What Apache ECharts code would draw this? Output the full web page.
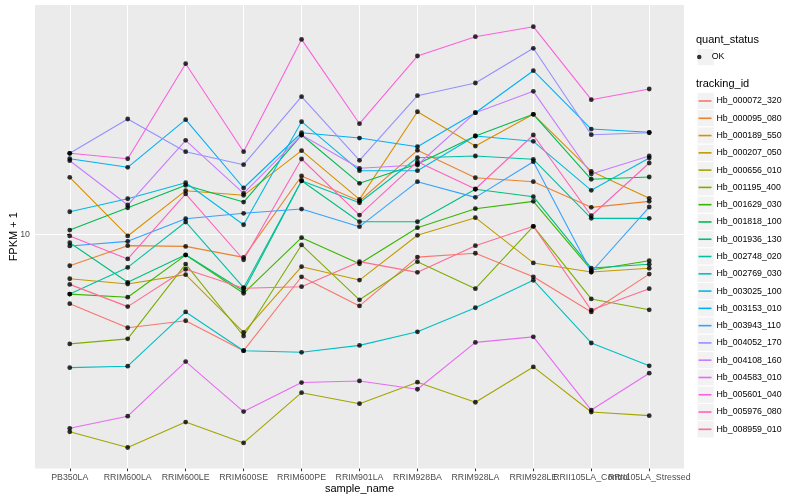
<!DOCTYPE html>
<html>
<head>
<meta charset="utf-8">
<script src="https://cdn.jsdelivr.net/npm/echarts@6/dist/echarts.min.js"></script>
<style>html,body{margin:0;padding:0;background:#fff}#c{width:800px;height:500px}</style>
</head>
<body>
<div id="c"></div>
<script>
const categories = ['PB350LA','RRIM600LA','RRIM600LE','RRIM600SE','RRIM600PE','RRIM901LA','RRIM928BA','RRIM928LA','RRIM928LE','RRII105LA_Control','RRII105LA_Stressed'];
const yTicks = [10];

const Hb_000072_320 = [5.88, 4.89, 5.16, 4.10, 7.23, 5.78, 8.41, 8.66, 7.23, 5.52, 7.38];
const Hb_000095_080 = [7.87, 9.18, 9.13, 8.39, 15.67, 12.93, 19.08, 15.46, 15.00, 12.32, 12.90];
const Hb_000189_550 = [15.51, 9.89, 14.00, 13.51, 19.03, 13.10, 25.66, 19.72, 25.16, 16.24, 13.20];
const Hb_000207_050 = [7.12, 6.84, 7.35, 4.72, 7.81, 7.05, 9.94, 11.38, 8.04, 7.50, 7.72];
const Hb_000656_010 = [2.20, 1.95, 2.37, 2.02, 2.97, 2.73, 3.22, 2.76, 3.62, 2.56, 2.49];
const Hb_001195_400 = [4.32, 4.49, 7.97, 4.59, 9.23, 6.06, 8.12, 6.60, 10.65, 6.10, 5.61];
const Hb_001629_030 = [6.33, 6.18, 8.54, 6.37, 9.76, 7.99, 10.54, 12.19, 12.90, 7.62, 8.18];
const Hb_001818_100 = [10.35, 12.28, 14.59, 12.83, 21.46, 14.81, 17.18, 21.30, 25.16, 15.28, 15.55];
const Hb_001936_130 = [9.39, 6.93, 8.56, 6.48, 15.11, 11.03, 11.03, 14.15, 13.37, 7.73, 7.96];
const Hb_002748_020 = [6.33, 7.77, 11.01, 6.65, 15.11, 12.76, 18.03, 18.27, 17.81, 11.32, 11.32];
const Hb_002769_030 = [3.60, 3.64, 5.52, 4.10, 4.05, 4.27, 4.74, 5.70, 7.04, 4.35, 3.65];
const Hb_003025_100 = [11.91, 13.16, 14.88, 10.78, 23.77, 16.32, 16.32, 21.30, 20.45, 14.04, 17.99];
const Hb_003153_010 = [17.89, 16.75, 24.14, 14.29, 21.84, 20.97, 19.62, 25.47, 35.16, 22.47, 21.91];
const Hb_003943_110 = [9.16, 9.49, 11.29, 11.77, 12.16, 10.62, 15.00, 13.30, 17.49, 7.50, 12.35];
const Hb_004052_170 = [18.65, 24.27, 18.88, 17.09, 28.80, 17.67, 29.02, 31.99, 41.75, 21.51, 21.84];
const Hb_004108_160 = [17.62, 12.54, 20.61, 13.72, 21.46, 16.62, 17.05, 25.47, 30.01, 15.91, 18.27];
const Hb_004583_010 = [2.26, 2.48, 3.77, 2.57, 3.21, 3.25, 3.05, 4.37, 4.56, 2.60, 3.45];
const Hb_005601_040 = [18.65, 17.89, 37.10, 18.88, 44.70, 23.41, 39.35, 45.64, 49.28, 28.14, 30.55];
const Hb_005976_080 = [9.89, 8.29, 13.65, 8.24, 17.85, 11.61, 17.49, 14.18, 21.46, 11.55, 17.31];
const Hb_008959_010 = [6.82, 5.75, 7.66, 6.62, 6.70, 8.12, 7.48, 9.18, 10.65, 5.60, 6.60];

const trackingIds = ['Hb_000072_320','Hb_000095_080','Hb_000189_550','Hb_000207_050','Hb_000656_010','Hb_001195_400','Hb_001629_030','Hb_001818_100','Hb_001936_130','Hb_002748_020','Hb_002769_030','Hb_003025_100','Hb_003153_010','Hb_003943_110','Hb_004052_170','Hb_004108_160','Hb_004583_010','Hb_005601_040','Hb_005976_080','Hb_008959_010'];
const seriesValues = [Hb_000072_320,Hb_000095_080,Hb_000189_550,Hb_000207_050,Hb_000656_010,Hb_001195_400,Hb_001629_030,Hb_001818_100,Hb_001936_130,Hb_002748_020,Hb_002769_030,Hb_003025_100,Hb_003153_010,Hb_003943_110,Hb_004052_170,Hb_004108_160,Hb_004583_010,Hb_005601_040,Hb_005976_080,Hb_008959_010];
const hueColors = ['#F8766D','#EA8331','#D89000','#C09B00','#A3A500','#7CAE00','#39B600','#00BB4E','#00BF7D','#00C1A3','#00BFC4','#00BAE0','#00B0F6','#35A2FF','#9590FF','#C77CFF','#E76BF3','#FA62DB','#FF62BC','#FF6C91'];

const FONT = "'Liberation Sans', Arial, Helvetica, sans-serif";
const catIdx = categories.map((c, i) => i);
const evenIdx = catIdx.filter(i => i % 2 === 0);
const oddIdx = catIdx.filter(i => i % 2 === 1);

const series = trackingIds.map((id, k) => ({
  name: id,
  type: 'line',
  xAxisIndex: 0,
  data: seriesValues[k].map((v, i) => [i, v]),
  symbol: 'none',
  color: hueColors[k],
  lineStyle: { width: 1.1, color: hueColors[k] },
  z: 2,
  silent: true
}));
const okPoints = [];
seriesValues.forEach(vals => vals.forEach((v, i) => okPoints.push([i, v])));
series.push({
  name: 'OK',
  type: 'scatter',
  xAxisIndex: 0,
  data: okPoints,
  symbol: 'circle',
  symbolSize: 4.8,
  itemStyle: { color: '#000' },
  z: 5,
  silent: true
});

// legend key backgrounds (ggplot grey95 boxes)
const KEY = 17.28;
const keyRects = [{ type: 'rect', shape: { x: 697, y: 57 - KEY / 2, width: KEY, height: KEY }, style: { fill: '#F2F2F2', stroke: '#FFFFFF', lineWidth: 1 }, z: -1 }];
trackingIds.forEach((id, k) => {
  keyRects.push({ type: 'rect', shape: { x: 697, y: 101 + k * KEY - KEY / 2, width: KEY, height: KEY }, style: { fill: '#F2F2F2', stroke: '#FFFFFF', lineWidth: 1 }, z: -1 });
});

const labelStyle = { margin: 4.5, hideOverlap: false, fontSize: 8.8, color: '#4D4D4D', fontFamily: FONT, formatter: v => categories[Math.round(v)] };

const chart = echarts.init(document.getElementById('c'));
chart.setOption({
  animation: false,
  textStyle: { fontFamily: FONT },
  title: [
    { text: 'quant_status', left: 696, top: 34, padding: 0, textStyle: { fontSize: 11, fontWeight: 'normal', color: '#000', fontFamily: FONT } },
    { text: 'tracking_id', left: 696, top: 78, padding: 0, textStyle: { fontSize: 11, fontWeight: 'normal', color: '#000', fontFamily: FONT } }
  ],
  graphic: keyRects,
  legend: [
    {
      data: ['OK'], orient: 'vertical', left: 697, top: 51, padding: 0,
      icon: 'circle', itemWidth: 15, itemHeight: 4.5, selectedMode: false,
      textStyle: { fontSize: 8.8, color: '#000', lineHeight: 12, fontFamily: FONT }
    },
    {
      data: trackingIds, orient: 'vertical', left: 698.5, top: 95, padding: 0,
      icon: 'rect', itemWidth: 13, itemHeight: 1.6, itemGap: 5.28, selectedMode: false,
      textStyle: { fontSize: 8.8, color: '#000', lineHeight: 12, fontFamily: FONT }
    }
  ],
  grid: { left: 35, right: 116, top: 5, bottom: 31.5, show: true, backgroundColor: '#EBEBEB', borderWidth: 0, containLabel: false, outerBoundsMode: 'none' },
  xAxis: [
    {
      type: 'value', min: -0.6, max: 10.6, position: 'bottom',
      name: 'sample_name', nameLocation: 'middle', nameGap: 15, nameMoveOverlap: false,
      nameTextStyle: { fontSize: 11, color: '#000', fontFamily: FONT },
      axisLine: { show: false },
      axisTick: { show: true, length: 2.74, lineStyle: { color: '#333333', width: 1 }, customValues: catIdx },
      axisLabel: Object.assign({ customValues: evenIdx }, labelStyle),
      splitLine: { show: true, lineStyle: { color: '#FFFFFF', width: 1.07 } }
    },
    {
      type: 'value', min: -0.6, max: 10.6, position: 'bottom', offset: 0,
      axisLine: { show: false },
      axisTick: { show: false },
      axisLabel: Object.assign({ customValues: oddIdx }, labelStyle),
      splitLine: { show: false }
    }
  ],
  yAxis: {
    type: 'log', logBase: 10, min: 1.660, max: 58.21,
    name: 'FPKM + 1', nameLocation: 'middle', nameGap: 16, nameMoveOverlap: false,
    nameTextStyle: { fontSize: 11, color: '#000', fontFamily: FONT },
    axisLine: { show: false },
    axisTick: { show: true, length: 2.74, lineStyle: { color: '#333333', width: 1 }, customValues: yTicks },
    axisLabel: { customValues: yTicks, margin: 5, fontSize: 8.8, color: '#4D4D4D', fontFamily: FONT, formatter: v => String(Math.round(v)) },
    splitLine: { show: true, lineStyle: { color: '#FFFFFF', width: 1.07 } }
  },
  series: series
});
</script>
</body>
</html>
